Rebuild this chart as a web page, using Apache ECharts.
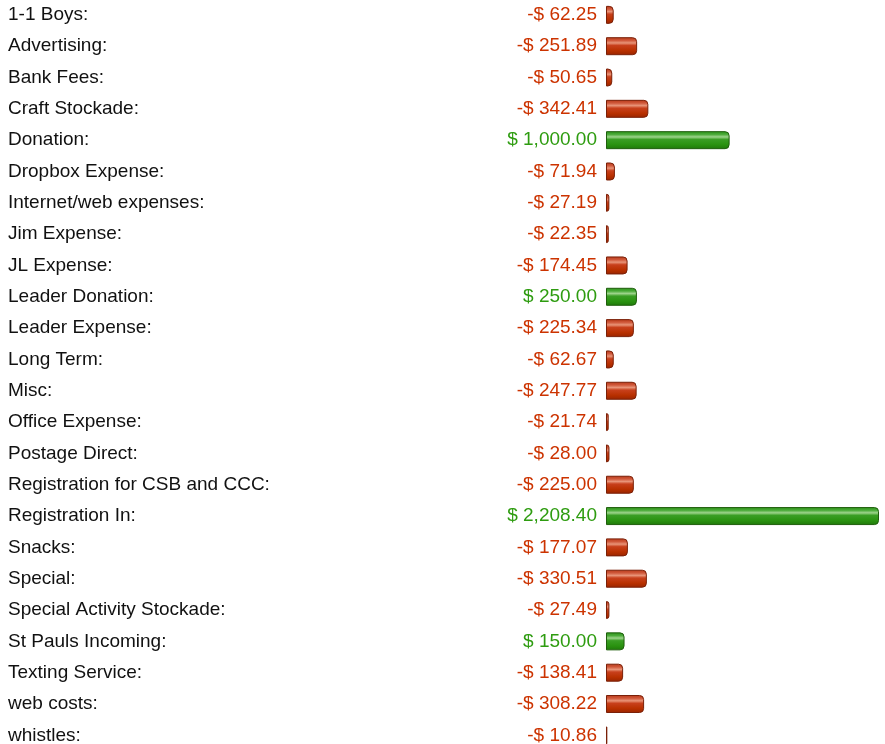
<!DOCTYPE html>
<html>
<head>
<meta charset="utf-8">
<script src="https://cdn.jsdelivr.net/npm/echarts@6/dist/echarts.min.js"></script>
<style>
  html, body { margin: 0; padding: 0; background: #fff; }
  #main { width: 885px; height: 744px; }
</style>
</head>
<body>
<div id="main"></div>
<script>
// 科目名称
const categories = [
  '1-1 Boys:', 'Advertising:', 'Bank Fees:', 'Craft Stockade:', 'Donation:',
  'Dropbox Expense:', 'Internet/web expenses:', 'Jim Expense:', 'JL Expense:',
  'Leader Donation:', 'Leader Expense:', 'Long Term:', 'Misc:', 'Office Expense:',
  'Postage Direct:', 'Registration for CSB and CCC:', 'Registration In:', 'Snacks:',
  'Special:', 'Special Activity Stockade:', 'St Pauls Incoming:', 'Texting Service:',
  'web costs:', 'whistles:'
];
// 金额（负数为支出）
const amounts = [
  -62.25, -251.89, -50.65, -342.41, 1000.00,
  -71.94, -27.19, -22.35, -174.45,
  250.00, -225.34, -62.67, -247.77, -21.74,
  -28.00, -225.00, 2208.40, -177.07,
  -330.51, -27.49, 150.00, -138.41,
  -308.22, -10.86
];

const chart = echarts.init(document.getElementById('main'));

// 红色/绿色 立体渐变
const redFill = new echarts.graphic.LinearGradient(0, 0, 0, 1, [
  { offset: 0, color: '#b83818' },
  { offset: 0.18, color: '#d0583a' },
  { offset: 0.32, color: '#e89478' },
  { offset: 0.46, color: '#c8401c' },
  { offset: 0.75, color: '#b83000' },
  { offset: 1, color: '#982400' }
]);
const greenFill = new echarts.graphic.LinearGradient(0, 0, 0, 1, [
  { offset: 0, color: '#2a9218' },
  { offset: 0.18, color: '#4aaa38' },
  { offset: 0.32, color: '#9ed48c' },
  { offset: 0.46, color: '#3a9e24' },
  { offset: 0.75, color: '#2a9210' },
  { offset: 1, color: '#1f780a' }
]);

function money(v) {
  const s = Math.abs(v).toLocaleString('en-US', { minimumFractionDigits: 2, maximumFractionDigits: 2 });
  return (v < 0 ? '-$ ' : '$ ') + s;
}

const seriesData = amounts.map((v) => {
  const pos = v >= 0;
  return {
    value: Math.abs(v),
    itemStyle: {
      color: pos ? greenFill : redFill,
      borderColor: pos ? '#1f5e0c' : '#7a2008',
    },
    label: { color: pos ? '#2e9c10' : '#cc3300' },
  };
});

const option = {
  animation: false,
  grid: { left: 606, right: 6, top: -0.8, bottom: -7, outerBoundsMode: 'none' },
  xAxis: {
    type: 'value',
    min: 0,
    max: 2208.4,
    show: false,
  },
  yAxis: {
    type: 'category',
    inverse: true,
    data: categories,
    axisLine: { show: false },
    axisTick: { show: false },
    splitLine: { show: false },
    axisLabel: {
      align: 'left',
      margin: 598,
      fontSize: 19,
      color: '#111',
      fontFamily: 'Liberation Sans, Arial, sans-serif',
    },
  },
  series: [
    {
      type: 'bar',
      data: seriesData,
      barWidth: 18,
      itemStyle: {
        borderWidth: 1,
        borderRadius: [0, 4, 4, 0],
      },
      label: {
        show: true,
        position: 'left',
        distance: 9,
        fontSize: 19,
        fontFamily: 'Liberation Sans, Arial, sans-serif',
        formatter: (p) => money(amounts[p.dataIndex]),
      },
    },
  ],
};

chart.setOption(option);
</script>
</body>
</html>
